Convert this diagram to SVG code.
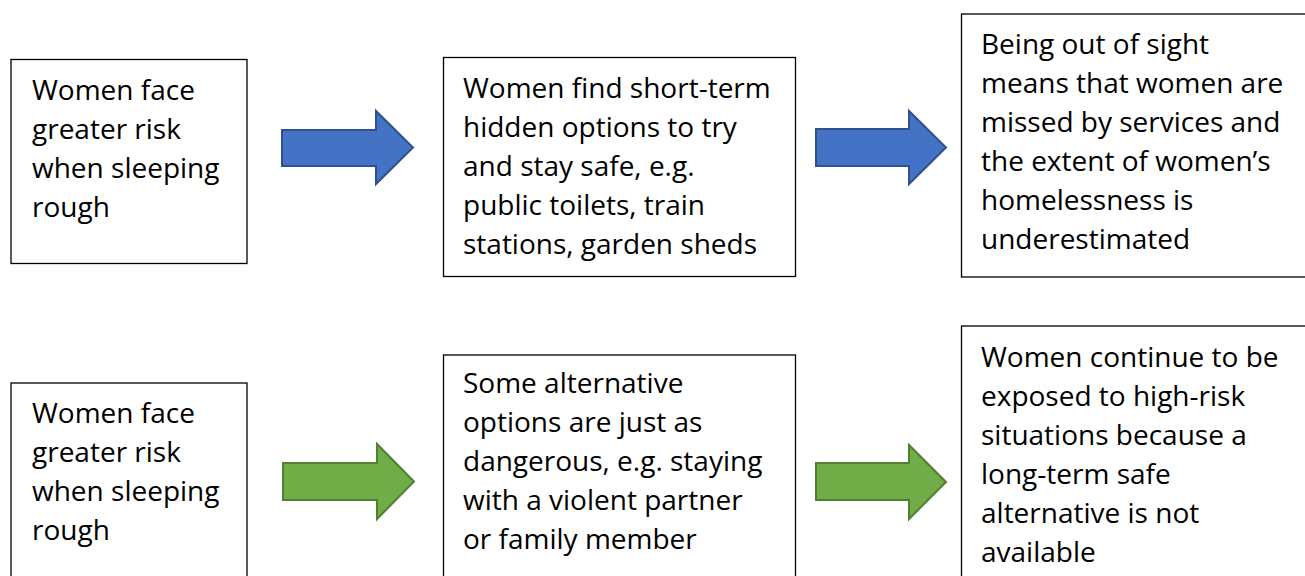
<svg xmlns="http://www.w3.org/2000/svg" width="1305" height="576" viewBox="0 0 1305 576">
<style>
.box{fill:#fff;stroke:#000;stroke-width:1.3}
.t{font-family:"Open Sans","Liberation Sans",sans-serif;font-size:28px;fill:#000}
.blue{fill:#4472C4;stroke:#2F528F;stroke-width:2}
.green{fill:#70AD47;stroke:#507E32;stroke-width:2}
</style>
<rect width="1305" height="576" fill="#fff"/>
<g id="n1"><rect class="box" x="11" y="59.5" width="236" height="204"/>
<text class="t" x="32"><tspan x="32" y="100">Women face</tspan><tspan x="32" y="139">greater risk</tspan><tspan x="32" y="178">when sleeping</tspan><tspan x="32" y="217">rough</tspan></text></g>
<g id="n2"><rect class="box" x="443.5" y="57.5" width="352" height="219"/>
<text class="t"><tspan x="463" y="98">Women find short-term</tspan><tspan x="463" y="137">hidden options to try</tspan><tspan x="463" y="176">and stay safe, e.g.</tspan><tspan x="463" y="215">public toilets, train</tspan><tspan x="463" y="254">stations, garden sheds</tspan></text></g>
<g id="n3"><rect class="box" x="961.5" y="14" width="350" height="263"/>
<text class="t"><tspan x="981" y="54">Being out of sight</tspan><tspan x="981" y="93">means that women are</tspan><tspan x="981" y="132">missed by services and</tspan><tspan x="981" y="171">the extent of women’s</tspan><tspan x="981" y="210">homelessness is</tspan><tspan x="981" y="249">underestimated</tspan></text></g>
<g id="n4"><rect class="box" x="11" y="383" width="236" height="210"/>
<text class="t"><tspan x="32" y="423">Women face</tspan><tspan x="32" y="462">greater risk</tspan><tspan x="32" y="501">when sleeping</tspan><tspan x="32" y="540">rough</tspan></text></g>
<g id="n5"><rect class="box" x="443.5" y="355" width="352" height="240"/>
<text class="t"><tspan x="463" y="393">Some alternative</tspan><tspan x="463" y="432">options are just as</tspan><tspan x="463" y="471">dangerous, e.g. staying</tspan><tspan x="463" y="510">with a violent partner</tspan><tspan x="463" y="549">or family member</tspan></text></g>
<g id="n6"><rect class="box" x="961.5" y="326" width="350" height="270"/>
<text class="t"><tspan x="981" y="367">Women continue to be</tspan><tspan x="981" y="406">exposed to high-risk</tspan><tspan x="981" y="445">situations because a</tspan><tspan x="981" y="484">long-term safe</tspan><tspan x="981" y="523">alternative is not</tspan><tspan x="981" y="562">available</tspan></text></g>
<g id="connectors">
<path class="blue" d="M282,130 H376 V111 L413,147.5 L376,184 V166 H282 Z"/>
<path class="blue" d="M816,129 H909 V111 L946,147.5 L909,184 V166 H816 Z"/>
<path class="green" d="M283,463 H377 V444 L414,481.5 L377,519 V500 H283 Z"/>
<path class="green" d="M816,463 H909 V445 L946,482 L909,519 V500 H816 Z"/>
</g>
</svg>
